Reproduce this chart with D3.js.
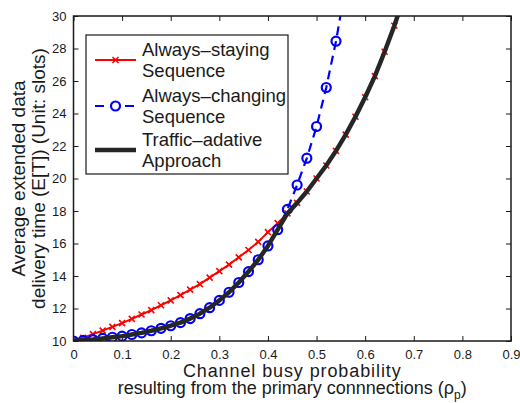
<!DOCTYPE html>
<html>
<head>
<meta charset="utf-8">
<script src="https://cdn.jsdelivr.net/npm/d3@7"></script>
<style>
  body { margin: 0; background: #fff; }
  svg text { font-family: "Liberation Sans", Arial, Helvetica, sans-serif; fill: #1a1a1a; }
</style>
</head>
<body>
<div id="chart"></div>
<script>
// values, x step 0.02
let rho = [0, 0.02, 0.04, 0.06, 0.08, 0.10, 0.12, 0.14, 0.16, 0.18, 0.20, 0.22, 0.24, 0.26, 0.28,
    0.30, 0.32, 0.34, 0.36, 0.38, 0.40, 0.42, 0.44, 0.46, 0.48, 0.50, 0.52, 0.54, 0.56, 0.58,
    0.60, 0.62, 0.64, 0.66, 0.68];

let stayingValues = [10, 10.2, 10.42, 10.64, 10.87, 11.1, 11.36, 11.63, 11.9, 12.2, 12.5, 12.82,
    13.16, 13.5, 13.9, 14.3, 14.7, 15.15, 15.6, 16.1, 16.7, 17.25, 17.85, 18.5, 19.2, 20.0, 20.8,
    21.7, 22.7, 23.8, 25.0, 26.3, 27.8, 29.4, 31.2];

let changingValues = [10, 10.04, 10.09, 10.16, 10.23, 10.3, 10.4, 10.5, 10.63, 10.78, 10.94, 11.13,
    11.38, 11.68, 12.05, 12.5, 13.0, 13.6, 14.27, 15.0, 15.85, 16.85, 18.1, 19.6, 21.25, 23.2, 25.6,
    28.45, 31.9];

let adaptiveValues = [10, 10.04, 10.09, 10.16, 10.23, 10.3, 10.4, 10.5, 10.63, 10.78, 10.94, 11.13,
    11.38, 11.68, 12.05, 12.5, 13.0, 13.6, 14.27, 15.0, 15.85, 16.85, 17.85, 18.5, 19.2, 20.0, 20.8,
    21.7, 22.7, 23.8, 25.0, 26.3, 27.8, 29.4, 31.2];

let xTicks = [0, 0.1, 0.2, 0.3, 0.4, 0.5, 0.6, 0.7, 0.8, 0.9];
let yTicks = [10, 12, 14, 16, 18, 20, 22, 24, 26, 28, 30];

let legendLabels = [
    ["Always\u2013staying", "Sequence"],
    ["Always\u2013changing", "Sequence"],
    ["Traffic\u2013adative", "Approach"]
];

let margin = {top: 16, right: 9, bottom: 62, left: 73.5};
let width = 520 - margin.left - margin.right;
let height = 403 - margin.top - margin.bottom;

let svg = d3.select("#chart").append("svg")
    .attr("width", 520)
    .attr("height", 403)
    .append("g")
    .attr("transform", "translate(" + margin.left + "," + margin.top + ")");

let x = d3.scaleLinear().domain([0, 0.9]).range([0, width]);
let y = d3.scaleLinear().domain([10, 30]).range([height, 0]);

svg.append("defs").append("clipPath")
    .attr("id", "clip")
    .append("rect")
    .attr("width", width)
    .attr("height", height);

// axes with inward ticks, labels only bottom/left
let xAxis = d3.axisBottom(x).tickValues(xTicks).tickSizeInner(-5).tickSizeOuter(0)
    .tickPadding(9).tickFormat(d => d === 0 ? "0" : d3.format(".1f")(d));
let yAxis = d3.axisLeft(y).tickValues(yTicks).tickSizeInner(-5).tickSizeOuter(0)
    .tickPadding(7).tickFormat(d3.format("d"));

svg.append("g").attr("transform", "translate(0," + height + ")").call(xAxis);
svg.append("g").call(yAxis);
svg.append("g").call(d3.axisTop(x).tickValues(xTicks).tickSizeInner(-5).tickSizeOuter(0).tickFormat(""));
svg.append("g").attr("transform", "translate(" + width + ",0)")
    .call(d3.axisRight(y).tickValues(yTicks).tickSizeInner(-5).tickSizeOuter(0).tickFormat(""));

svg.selectAll(".domain").remove();
svg.selectAll(".tick line").attr("stroke", "#1a1a1a");
svg.selectAll(".tick text").style("font-size", "13px");

let plot = svg.append("g").attr("clip-path", "url(#clip)");

let line = d3.line().x(d => x(d[0])).y(d => y(d[1]));

let staying = rho.map((r, i) => [r, stayingValues[i]]);
let changing = changingValues.map((v, i) => [rho[i], v]);
let adaptive = rho.map((r, i) => [r, adaptiveValues[i]]);

// always-staying: red line with x markers
plot.append("path").datum(staying)
    .attr("d", line).attr("fill", "none").attr("stroke", "#ff0000").attr("stroke-width", 2);

function crossPath(cx, cy, s) {
    return "M" + (cx - s) + "," + (cy - s) + "L" + (cx + s) + "," + (cy + s) +
        "M" + (cx - s) + "," + (cy + s) + "L" + (cx + s) + "," + (cy - s);
}

plot.selectAll(".xmark").data(staying).enter().append("path")
    .attr("class", "xmark")
    .attr("d", d => crossPath(x(d[0]), y(d[1]), 3))
    .attr("stroke", "#ff0000").attr("stroke-width", 1.6).attr("fill", "none");

// always-changing: blue dashed with circles
plot.append("path").datum(changing)
    .attr("d", line).attr("fill", "none").attr("stroke", "#0000ff").attr("stroke-width", 2.2)
    .attr("stroke-dasharray", "9,6");

plot.selectAll(".omark").data(changing).enter().append("circle")
    .attr("class", "omark")
    .attr("cx", d => x(d[0])).attr("cy", d => y(d[1])).attr("r", 4.5)
    .attr("fill", "none").attr("stroke", "#0000ff").attr("stroke-width", 2.2);

// traffic-adaptive: thick dark line on top
plot.append("path").datum(adaptive)
    .attr("d", line).attr("fill", "none").attr("stroke", "#262626").attr("stroke-width", 4.5)
    .attr("stroke-linejoin", "round");

// frame
svg.append("rect").attr("width", width).attr("height", height)
    .attr("fill", "none").attr("stroke", "#1a1a1a").attr("stroke-width", 1.5);

// legend
let legend = svg.append("g").attr("transform", "translate(" + (86 - margin.left) + "," + (35 - margin.top) + ")");
legend.append("rect").attr("width", 202).attr("height", 139)
    .attr("fill", "#fff").attr("stroke", "#1a1a1a").attr("stroke-width", 1.2);

let rowY = [25, 71, 115];
legendLabels.forEach((lab, i) => {
    let row = legend.append("g").attr("transform", "translate(0," + rowY[i] + ")");
    if (i === 0) {
        row.append("line").attr("x1", 9).attr("x2", 50).attr("stroke", "#ff0000").attr("stroke-width", 2);
        row.append("path").attr("d", crossPath(29.5, 0, 3)).attr("stroke", "#ff0000").attr("stroke-width", 1.6);
    } else if (i === 1) {
        row.append("line").attr("x1", 9).attr("x2", 50).attr("stroke", "#0000ff").attr("stroke-width", 2.2)
            .attr("stroke-dasharray", "9,6");
        row.append("circle").attr("cx", 29.5).attr("r", 4.5).attr("fill", "#fff")
            .attr("stroke", "#0000ff").attr("stroke-width", 2.2);
    } else {
        row.append("line").attr("x1", 9).attr("x2", 50).attr("stroke", "#262626").attr("stroke-width", 4.5);
    }
    row.selectAll("text").data(lab).enter().append("text")
        .attr("x", 56)
        .attr("y", (d, j) => j === 0 ? -4 : 17)
        .style("font-size", "18.5px")
        .text(d => d);
});

// axis labels
svg.append("text")
    .attr("x", width / 2).attr("y", height + 36)
    .attr("text-anchor", "middle").style("font-size", "18px")
    .style("letter-spacing", "0.9px")
    .text("Channel busy probability");
let xl2 = svg.append("text")
    .attr("x", width / 2).attr("y", height + 52.5)
    .attr("text-anchor", "middle").style("font-size", "18px");
xl2.append("tspan").text("resulting from the primary connnections (\u03c1");
xl2.append("tspan").attr("dy", 5).style("font-size", "12px").text("p");
xl2.append("tspan").attr("dy", -5).text(")");

svg.append("text")
    .attr("transform", "rotate(-90)")
    .attr("x", -height / 2).attr("y", -48.5)
    .attr("text-anchor", "middle").style("font-size", "19px")
    .text("Average extended data");
svg.append("text")
    .attr("transform", "rotate(-90)")
    .attr("x", -height / 2).attr("y", -28.5)
    .attr("text-anchor", "middle").style("font-size", "19px")
    .text("delivery time (E[T]) (Unit: slots)");
</script>
</body>
</html>
